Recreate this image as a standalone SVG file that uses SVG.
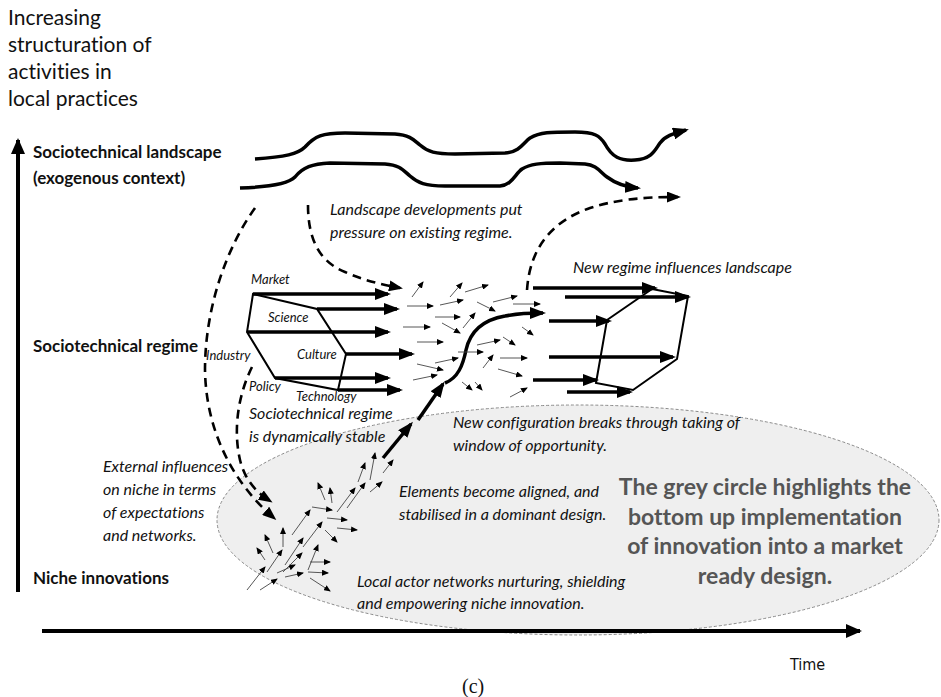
<svg xmlns="http://www.w3.org/2000/svg" width="941" height="697" viewBox="0 0 941 697">
<defs>
<style>
text{font-family:Lato,"Open Sans","Liberation Sans",sans-serif;fill:#111;font-variant-ligatures:none;font-feature-settings:"liga" 0,"dlig" 0}
.t{font-size:21px}
.b{font-size:17px;font-weight:bold}
.i{font-size:16px;font-style:italic}
.s{font-size:13px;font-style:italic}
.g{font-size:23px;font-weight:bold;fill:#555;text-anchor:middle}
.thick{fill:none;stroke:#000;stroke-width:3.5;marker-end:url(#ah)}
.wave{fill:none;stroke:#000;stroke-width:3.5;marker-end:url(#ah)}
.poly{fill:none;stroke:#000;stroke-width:2}
.dash{fill:none;stroke:#000;stroke-width:2.6;stroke-dasharray:9 6;marker-end:url(#am)}
.sm line,.sm path{stroke:#444;stroke-width:0.9;fill:none;marker-end:url(#as)}
</style>
<marker id="ah" markerUnits="userSpaceOnUse" markerWidth="16" markerHeight="12" refX="13" refY="6" orient="auto"><path d="M0,0 L16,6 L0,12 z" fill="#000"/></marker>
<marker id="am" markerUnits="userSpaceOnUse" markerWidth="14" markerHeight="11" refX="11" refY="5.5" orient="auto"><path d="M0,0 L14,5.5 L0,11 z" fill="#000"/></marker>
<marker id="as" markerUnits="userSpaceOnUse" markerWidth="7" markerHeight="6" refX="6" refY="3" orient="auto"><path d="M0,0 L7,3 L0,6 z" fill="#000"/></marker>
<marker id="ax" markerUnits="userSpaceOnUse" markerWidth="16" markerHeight="14" refX="14" refY="7" orient="auto"><path d="M0,0 L16,7 L0,14 z" fill="#000"/></marker>
</defs>
<rect width="941" height="697" fill="#fff"/>

<g id="niche-ellipse">
<ellipse cx="578" cy="520" rx="361" ry="115" fill="#efefef" stroke="#8a8a8a" stroke-width="1" stroke-dasharray="3 2"/>
</g>

<g id="axis-title">
<text class="t" x="8" y="25">Increasing</text>
<text class="t" x="8" y="52">structuration of</text>
<text class="t" x="8" y="79">activities in</text>
<text class="t" x="8" y="106">local practices</text>
</g>

<g id="axes">
<line x1="18" y1="592" x2="18" y2="140" stroke="#000" stroke-width="4" style="marker-end:url(#ax)"/>
<line x1="42" y1="631" x2="860" y2="631" stroke="#000" stroke-width="4" style="marker-end:url(#ax)"/>
<text x="790" y="670" style="font-family:'DejaVu Sans Condensed','DejaVu Sans',sans-serif;font-size:16px">Time</text>
<text x="462" y="693" style="font-family:'Liberation Serif',serif;font-size:20px">(c)</text>
</g>

<g id="level-labels">
<text class="b" x="33" y="158">Sociotechnical landscape</text>
<text class="b" x="33" y="184">(exogenous context)</text>
<text class="b" x="33" y="352">Sociotechnical regime</text>
<text class="b" x="33" y="584">Niche innovations</text>
</g>

<g id="landscape">
<path class="wave" d="M255,159 C285,157 298,154 305,147 C315,136 322,133 345,133 L395,134 C410,135 414,140 420,145 C428,152 435,154 455,154 L505,153 C520,152 524,142 530,138 C540,132 550,132 575,132 C595,132 600,136 605,144 C612,157 620,161 635,160 C652,159 655,150 660,143 C665,136 672,134 686,130"/>
<path class="wave" d="M240,188 C270,187 288,184 295,177 C303,167 312,164 330,163 L385,164 C400,165 403,170 410,176 C418,183 425,186 445,186 L500,186 C512,185 515,174 522,169 C530,164 540,163 560,163 L585,164 C597,165 600,172 607,177 C615,183 625,187 638,188"/>
</g>

<g id="regime-left">
<path class="poly" d="M253,294 L317,309 L346,354 L338,390 L275,378 L247,332 Z"/>
<line class="thick" x1="253" y1="294" x2="388" y2="294"/>
<line class="thick" x1="317" y1="309" x2="397" y2="309"/>
<line class="thick" x1="247" y1="332" x2="388" y2="332"/>
<line class="thick" x1="346" y1="354" x2="412" y2="354"/>
<line class="thick" x1="275" y1="378" x2="388" y2="378"/>
<line class="thick" x1="338" y1="390" x2="400" y2="390"/>
<text class="s" x="251" y="284">Market</text>
<text class="s" x="268" y="322">Science</text>
<text class="s" x="206" y="360">Industry</text>
<text class="s" x="297" y="359">Culture</text>
<text class="s" x="249" y="391">Policy</text>
<text class="s" x="296" y="401">Technology</text>
</g>

<g id="regime-right">
<path class="poly" d="M652,289 L688,296 L677,359 L633,390 L596,383 L607,320 Z"/>
<line class="thick" x1="533" y1="288" x2="655" y2="288"/>
<line class="thick" x1="565" y1="297" x2="688" y2="297"/>
<line class="thick" x1="549" y1="321" x2="609" y2="321"/>
<line class="thick" x1="549" y1="357" x2="673" y2="357"/>
<line class="thick" x1="533" y1="380" x2="596" y2="380"/>
<line class="thick" x1="567" y1="392" x2="630" y2="392"/>
</g>

<g id="connectors">
<path class="dash" d="M255,208 C225,250 205,310 205,370 C206,430 232,482 274,518"/>
<path class="dash" d="M252,367 C238,395 233,430 240,460 C245,480 256,492 270,501"/>
<path class="dash" d="M308,205 C308,240 320,262 345,272 C365,281 380,284 400,288"/>
<path class="dash" d="M527,290 C530,245 555,220 590,208 C615,200 640,197 678,197"/>
<line class="thick" x1="383" y1="458" x2="411" y2="424"/>
<line class="thick" x1="418" y1="420" x2="443" y2="384"/>
<path class="thick" d="M445,383 C458,378 463,365 466,350 C470,332 482,320 505,316 C515,314 528,313 543,313"/>
</g>

<g id="regime-particles" class="sm">
<line x1="412" y1="297" x2="423" y2="282"/>
<line x1="407" y1="306" x2="433" y2="306"/>
<line x1="450" y1="297" x2="462" y2="283"/>
<line x1="465" y1="292" x2="488" y2="285"/>
<line x1="440" y1="305" x2="463" y2="300"/>
<line x1="477" y1="302" x2="495" y2="311"/>
<line x1="493" y1="302" x2="517" y2="296"/>
<line x1="513" y1="304" x2="540" y2="304"/>
<line x1="435" y1="317" x2="460" y2="317"/>
<line x1="403" y1="327" x2="430" y2="327"/>
<line x1="442" y1="323" x2="460" y2="333"/>
<line x1="463" y1="328" x2="475" y2="313"/>
<line x1="417" y1="342" x2="443" y2="342"/>
<line x1="477" y1="345" x2="500" y2="340"/>
<line x1="503" y1="337" x2="515" y2="345"/>
<line x1="522" y1="327" x2="533" y2="335"/>
<line x1="458" y1="352" x2="483" y2="352"/>
<line x1="435" y1="363" x2="458" y2="358"/>
<line x1="417" y1="364" x2="443" y2="370"/>
<line x1="413" y1="380" x2="437" y2="375"/>
<line x1="483" y1="368" x2="493" y2="355"/>
<line x1="500" y1="358" x2="527" y2="358"/>
<line x1="498" y1="369" x2="522" y2="376"/>
<line x1="462" y1="382" x2="472" y2="390"/>
<line x1="475" y1="382" x2="482" y2="390"/>
<line x1="510" y1="397" x2="527" y2="388"/>
</g>

<g id="niche-particles" class="sm">
<line x1="247" y1="590" x2="265" y2="567"/>
<line x1="260" y1="590" x2="277" y2="579"/>
<line x1="267" y1="572" x2="282" y2="550"/>
<line x1="265" y1="560" x2="257" y2="548"/>
<line x1="273" y1="553" x2="265" y2="535"/>
<line x1="283" y1="547" x2="283" y2="528"/>
<line x1="277" y1="573" x2="295" y2="565"/>
<line x1="283" y1="572" x2="302" y2="553"/>
<line x1="285" y1="565" x2="303" y2="538"/>
<line x1="292" y1="535" x2="310" y2="510"/>
<line x1="303" y1="547" x2="322" y2="522"/>
<line x1="285" y1="577" x2="303" y2="573"/>
<line x1="308" y1="570" x2="318" y2="545"/>
<line x1="310" y1="562" x2="330" y2="562"/>
<line x1="308" y1="572" x2="328" y2="573"/>
<line x1="310" y1="578" x2="330" y2="591"/>
<line x1="325" y1="530" x2="337" y2="542"/>
<line x1="327" y1="518" x2="347" y2="520"/>
<line x1="337" y1="528" x2="357" y2="530"/>
<line x1="312" y1="507" x2="332" y2="510"/>
<line x1="325" y1="500" x2="318" y2="483"/>
<line x1="332" y1="503" x2="330" y2="488"/>
<line x1="337" y1="512" x2="355" y2="488"/>
<line x1="347" y1="508" x2="365" y2="483"/>
<line x1="358" y1="482" x2="365" y2="463"/>
<line x1="370" y1="480" x2="375" y2="453"/>
<line x1="370" y1="492" x2="382" y2="482"/>
<line x1="383" y1="473" x2="393" y2="460"/>
</g>

<g id="annotations">
<text class="i" x="330" y="215">Landscape developments put</text>
<text class="i" x="330" y="238">pressure on existing regime.</text>
<text class="i" x="573" y="273">New regime influences landscape</text>
<text class="i" x="249" y="419">Sociotechnical regime</text>
<text class="i" x="249" y="442">is dynamically stable</text>
<text class="i" x="453" y="428">New configuration breaks through taking of</text>
<text class="i" x="453" y="451">window of opportunity.</text>
<text class="i" x="103" y="472">External influences</text>
<text class="i" x="103" y="495">on niche in terms</text>
<text class="i" x="103" y="518">of expectations</text>
<text class="i" x="103" y="541">and networks.</text>
<text class="i" x="399" y="497">Elements become aligned, and</text>
<text class="i" x="399" y="520">stabilised in a dominant design.</text>
<text class="i" x="357" y="587">Local actor networks nurturing, shielding</text>
<text class="i" x="357" y="609">and empowering niche innovation.</text>
<text class="g" x="765" y="495">The grey circle highlights the</text>
<text class="g" x="765" y="525">bottom up implementation</text>
<text class="g" x="765" y="554">of innovation into a market</text>
<text class="g" x="765" y="584">ready design.</text>
</g>
</svg>
